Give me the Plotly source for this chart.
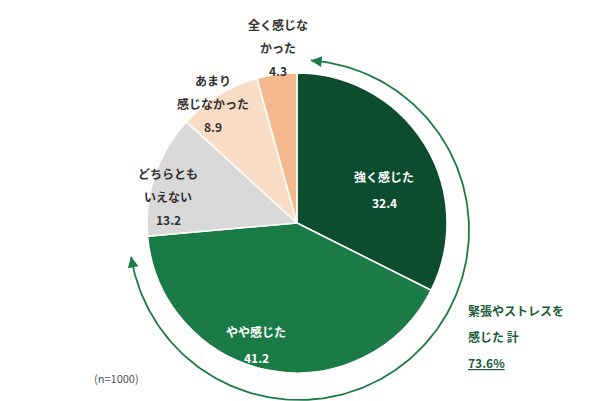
import plotly.graph_objects as go
import numpy as np

labels = ["強く感じた", "やや感じた", "どちらともいえない", "あまり感じなかった", "全く感じなかった"]
values = [32.4, 41.2, 13.2, 8.9, 4.3]
colors = ["#0d4d2f", "#1b7b46", "#d9d9d9", "#f9dcc6", "#f3b98d"]

W, H = 600, 401
cx, cy, r = 289, 215, 150
F = "Noto Sans CJK JP"

fig = go.Figure()
fig.add_trace(go.Pie(labels=labels, values=values, sort=False, direction="clockwise",
                     rotation=0, marker=dict(colors=colors, line=dict(color="white", width=1.5)),
                     textinfo="none", hoverinfo="label+value", showlegend=False,
                     domain=dict(x=[(cx - r) / W, (cx + r) / W], y=[1 - (cy + r) / H, 1 - (cy - r) / H])))

# arc around the "felt" share (drawn in pixel space of the rendered pie)
pcx, pcy = 291, 222
total = sum(values)
share = (values[0] + values[1]) / total * 360
ra = 170
th = np.radians(np.linspace(4, share - 4, 200))
ax_ = pcx + ra * np.sin(th)
ay_ = pcy - ra * np.cos(th)
fig.add_trace(go.Scatter(x=ax_, y=ay_, mode="lines", line=dict(color="#1b7b46", width=1.8),
                         hoverinfo="skip", showlegend=False))
for i, j in [(0, 3), (-1, -4)]:
    fig.add_annotation(x=ax_[i], y=ay_[i], ax=ax_[j], ay=ay_[j], xref="x", yref="y", axref="x", ayref="y",
                       showarrow=True, arrowhead=2, arrowsize=1.2, arrowwidth=1.8, arrowcolor="#1b7b46", text="")

def lines(x, y0, items, color="#333333", xanchor="center", step=23, size=12):
    for k, t in enumerate(items):
        fig.add_annotation(x=x, y=y0 + k * step, xref="x", yref="y", text=f"<b>{t}</b>", showarrow=False,
                           xanchor=xanchor, font=dict(family=F, size=size, color=color))

lines(376, 168, ["強く感じた", "32.4"], "white", step=26)
lines(248, 323, ["やや感じた", "41.2"], "white", step=26)
lines(270, 16, ["全く感じな", "かった", "4.3"])
lines(205, 72, ["あまり", "感じなかった", "8.9"])
lines(160, 165, ["どちらとも", "いえない", "13.2"])
lines(458, 302, ["緊張やストレスを", "感じた 計", "<u>73.6%</u>"], "#1b5e3a", xanchor="left", step=26)
fig.add_annotation(x=108, y=370, xref="x", yref="y", text="(n=1000)", showarrow=False,
                   font=dict(family=F, size=11, color="#555555"))

fig.update_layout(width=W, height=H, margin=dict(l=0, r=0, t=0, b=0),
                  paper_bgcolor="white", plot_bgcolor="rgba(0,0,0,0)",
                  xaxis=dict(range=[0, W], visible=False, fixedrange=True),
                  yaxis=dict(range=[H, 0], visible=False, fixedrange=True))
fig.write_html("out.html")
